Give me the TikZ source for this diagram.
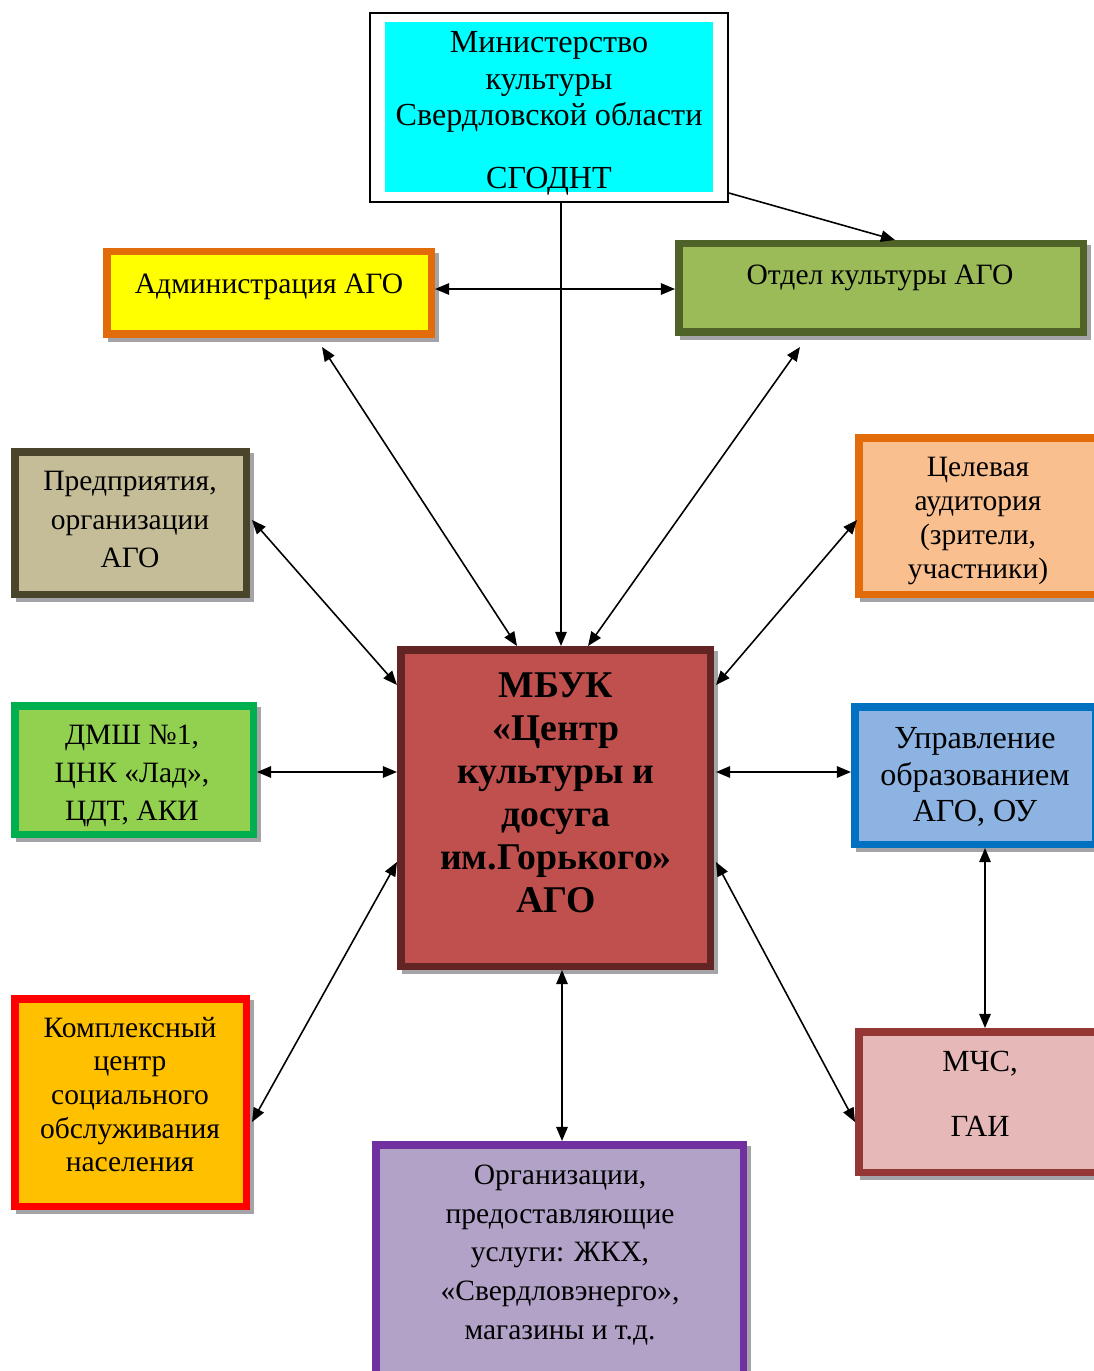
\documentclass[tikz,border=0pt]{standalone}
\usepackage{fontspec}
\setmainfont{Liberation Serif}
\usetikzlibrary{arrows.meta,calc,backgrounds}
\definecolor{admB}{HTML}{E36C0A}
\definecolor{admF}{HTML}{FFFF00}
\definecolor{otdB}{HTML}{4F6228}
\definecolor{otdF}{HTML}{9BBB59}
\definecolor{predB}{HTML}{4A452A}
\definecolor{predF}{HTML}{C4BD97}
\definecolor{celB}{HTML}{E36C0A}
\definecolor{celF}{HTML}{FABF8F}
\definecolor{mbukB}{HTML}{632523}
\definecolor{mbukF}{HTML}{C0504D}
\definecolor{dmshB}{HTML}{00B050}
\definecolor{dmshF}{HTML}{92D050}
\definecolor{uprB}{HTML}{0070C0}
\definecolor{uprF}{HTML}{8DB3E2}
\definecolor{komB}{HTML}{FF0000}
\definecolor{komF}{HTML}{FFC000}
\definecolor{mchsB}{HTML}{953735}
\definecolor{mchsF}{HTML}{E6B9B8}
\definecolor{orgB}{HTML}{7030A0}
\definecolor{orgF}{HTML}{B2A2C7}
\definecolor{minF}{HTML}{00FFFF}
\definecolor{shadowgray}{HTML}{A3A3A8}
\tikzset{
  box/.style={draw, line width=4.27pt, inner sep=0pt},
  bw/.style={minimum width=(#1-7.5)*0.02cm},
  bh/.style={minimum height=(#1-7.5)*0.02cm},
  txt/.style={align=center, inner sep=0pt, font=\fontsize{16.8}{21.5}\selectfont},
  conn/.style={line width=0.9pt, {Triangle[length=8pt,width=6.5pt]}-{Triangle[length=8pt,width=6.5pt]}},
  conn1/.style={line width=0.9pt, -{Triangle[length=8pt,width=6.5pt]}},
  shad/.style={fill=shadowgray}}
\begin{document}
\begin{tikzpicture}[x=0.02cm,y=-0.02cm]
\useasboundingbox (0,0) rectangle (1094,1371);

% Ministry
\node[draw, line width=1.2pt, fill=white, inner sep=0pt,
  minimum width=358*0.02cm, minimum height=189*0.02cm] (min) at (549,107.5) {};
\node[fill=minF, inner sep=0pt, outer sep=0pt,
  minimum width=328*0.02cm, minimum height=170*0.02cm] (mincy) at (549,107) {};
\node[txt, font=\fontsize{18.3}{21}\selectfont] (mint) at (549,82) {Министерство\\культуры\\Свердловской области};
\node[txt, font=\fontsize{18.3}{21}\selectfont] (mint2) at (549,181) {СГОДНТ};

% boxes
\node[box, bw=332, bh=90, draw=admB, fill=admF] (adm) at (269,293) {};
\node[box, bw=412, bh=96, draw=otdB, fill=otdF] (otd) at (881,288) {};
\node[box, bw=239, bh=150, draw=predB, fill=predF] (pred) at (130.5,523) {};
\node[box, bw=246, bh=164, draw=celB, fill=celF] (cel) at (978,516) {};
\node[box, bw=317, bh=324, draw=mbukB, fill=mbukF] (mbuk) at (555.5,808) {};
\node[box, bw=246, bh=136, draw=dmshB, fill=dmshF] (dmsh) at (134,770) {};
\node[box, bw=248, bh=145, draw=uprB, fill=uprF] (upr) at (975,775.5) {};
\node[box, bw=239, bh=215, draw=komB, fill=komF] (kompl) at (130.5,1102.5) {};
\node[box, bw=250, bh=148, draw=mchsB, fill=mchsF] (mchs) at (980,1102) {};
\node[box, bw=375, bh=259, draw=orgB, fill=orgF] (org) at (559.5,1270.5) {};

\begin{scope}[on background layer]
\foreach \n in {adm,otd,pred,cel,mbuk,dmsh,upr,kompl,mchs,org}
  \fill[shad] ($(\n.north west)+(5,5)$) rectangle ($(\n.south east)+(4,4)$);
\end{scope}

% texts
\node[txt] (admt) at (269,287) {Администрация АГО};
\node[txt] (otdt) at (880,278) {Отдел культуры АГО};
\node[txt, font=\fontsize{16.8}{21.8}\selectfont] (predt) at (130,519.5) {Предприятия,\\организации\\АГО};
\node[txt, font=\fontsize{16.8}{19.3}\selectfont] (celt) at (978,521) {Целевая\\аудитория\\(зрители,\\участники)};
\node[txt, font=\bfseries\fontsize{21.5}{24.5}\selectfont] (mbukt) at (556,793) {МБУК\\«Центр\\культуры и\\досуга\\им.Горького»\\АГО};
\node[txt, font=\fontsize{16.8}{21.5}\selectfont] (dmsht) at (132,776) {ДМШ №1,\\ЦНК «Лад»,\\ЦДТ, АКИ};
\node[txt, font=\fontsize{18.3}{21}\selectfont] (uprt) at (975,777) {Управление\\образованием\\АГО, ОУ};
\node[txt, font=\fontsize{16.8}{19.1}\selectfont] (komt) at (130,1094.5) {Комплексный\\центр\\социального\\обслуживания\\населения};
\node[txt, font=\fontsize{17.5}{19}\selectfont] (mchst) at (980,1093.5) {МЧС,\\[18pt]ГАИ};
\node[txt, font=\fontsize{16.8}{22}\selectfont] (orgt) at (560,1255) {Организации,\\предоставляющие\\услуги: ЖКХ,\\«Свердловэнерго»,\\магазины и т.д.};

% connectors
\draw[conn1] ($(min.south)+(12,0)$) -- ($(mbuk.north)+(5.5,0)$);
\draw[conn1] ($(min.south east)+(0,-10)$) -- ($(otd.north)+(14,0)$);
\draw[conn] ($(adm.east)+(0,-4)$) -- ($(otd.west)+(0,1)$);
\draw[conn] ($(adm.south)+(53,9)$) -- ($(mbuk.north)+(-38.5,0)$);
\draw[conn] ($(otd.south)+(-81,11)$) -- ($(mbuk.north)+(32.5,0)$);
\draw[conn] ($(pred.east)+(2,-3)$) -- ($(mbuk.west)+(0,-123)$);
\draw[conn] ($(cel.west)+(2,4)$) -- ($(mbuk.east)+(2,-123)$);
\draw[conn] ($(dmsh.east)+(0,2)$) -- ($(mbuk.west)+(0,-36)$);
\draw[conn] ($(upr.west)+(0,-3.5)$) -- ($(mbuk.east)+(2,-36)$);
\draw[conn] ($(kompl.east)+(2,19.5)$) -- ($(mbuk.west)+(0,54)$);
\draw[conn] ($(mchs.west)+(0,20)$) -- ($(mbuk.east)+(2,54)$);
\draw[conn] ($(mbuk.south)+(6.5,0)$) -- ($(org.north)+(2.5,0)$);
\draw[conn] ($(upr.south)+(10,0)$) -- ($(mchs.north)+(5,0)$);
\end{tikzpicture}
\end{document}
